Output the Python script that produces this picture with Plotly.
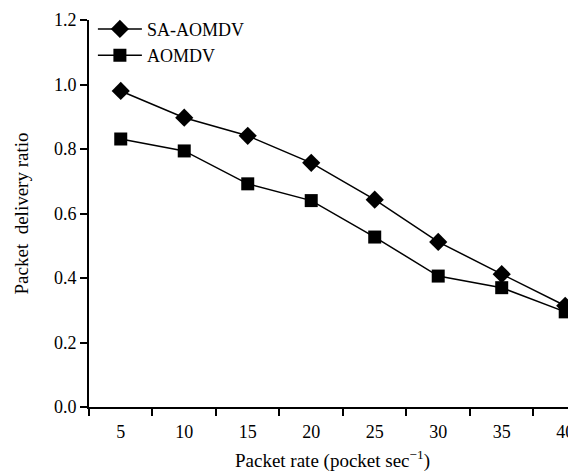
import plotly.graph_objects as go

packet_rate = [5, 10, 15, 20, 25, 30, 35, 40]
sa_aomdv = [0.98, 0.897, 0.841, 0.757, 0.643, 0.512, 0.412, 0.314]
aomdv = [0.831, 0.794, 0.692, 0.640, 0.527, 0.406, 0.370, 0.295]
y_ticks = [0.0, 0.2, 0.4, 0.6, 0.8, 1.0, 1.2]
x_sep_ticks = [2.5, 7.5, 12.5, 17.5, 22.5, 27.5, 32.5, 37.5]

font_family = "Liberation Serif, Times New Roman, serif"

fig = go.Figure()
fig.add_trace(go.Scatter(
    x=packet_rate, y=sa_aomdv, name="SA-AOMDV", mode="lines+markers",
    line=dict(color="black", width=1.5),
    marker=dict(symbol="diamond", size=14, color="black"),
    cliponaxis=False,
))
fig.add_trace(go.Scatter(
    x=packet_rate, y=aomdv, name="AOMDV", mode="lines+markers",
    line=dict(color="black", width=1.5),
    marker=dict(symbol="square", size=13, color="black"),
    cliponaxis=False,
))

# the page body has an 8px default margin, so the figure is sized to fit
fig.update_layout(
    width=568, height=464,
    margin=dict(l=81, r=0, t=12, b=65),
    paper_bgcolor="white", plot_bgcolor="white",
    font=dict(family=font_family, size=18, color="black"),
    showlegend=True,
    legend=dict(x=0.008, y=1.024, xanchor="left", yanchor="top",
                bgcolor="rgba(0,0,0,0)", font=dict(size=18),
                tracegroupgap=0, itemwidth=44),
    xaxis=dict(
        range=[2.5, 40.85], tickvals=packet_rate,
        ticks="", ticklen=0, automargin=False, ticklabelstandoff=7,
        showline=True, linecolor="black", linewidth=2,
        showgrid=False, zeroline=False,
        minor=dict(tickvals=x_sep_ticks, ticks="outside", ticklen=7,
                   tickcolor="black", tickwidth=2, showgrid=False),
        title=dict(text="Packet rate (pocket sec<sup>\u22121</sup>)", standoff=13,
                   font=dict(size=19)),
        tickfont=dict(size=18),
    ),
    yaxis=dict(
        range=[0, 1.2], tickvals=y_ticks, tickformat=".1f", automargin=False,
        ticks="outside", ticklen=7, tickwidth=2, tickcolor="black",
        showline=True, linecolor="black", linewidth=2,
        showgrid=False, zeroline=False,
        title=dict(text="Packet  delivery ratio", standoff=20, font=dict(size=19)),
        tickfont=dict(size=18),
    ),
)

fig.write_html("out.html")
